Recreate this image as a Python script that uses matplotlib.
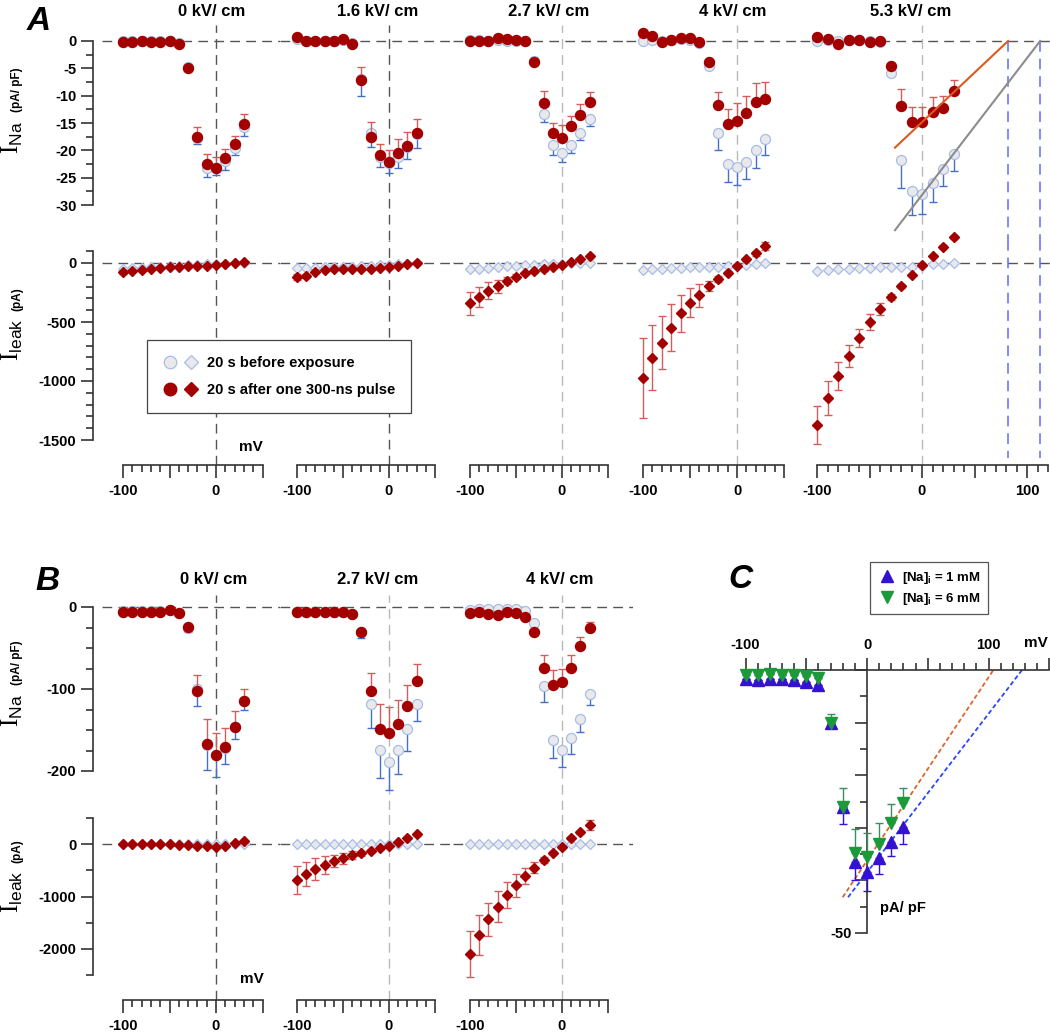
import matplotlib.pyplot as plt
from matplotlib.legend_handler import HandlerTuple
from matplotlib.lines import Line2D

plt.rcParams['font.family'] = ['Liberation Sans', 'DejaVu Sans']
plt.rcParams['mathtext.fontset'] = 'custom'
plt.rcParams['mathtext.rm'] = 'Liberation Serif'
plt.rcParams['mathtext.sf'] = 'Liberation Sans'
plt.rcParams['mathtext.bf'] = 'Liberation Sans:bold'

# %% Data
mv = [-100, -90, -80, -70, -60, -50, -40, -30, -20, -10, 0, 10, 20, 30]

fields_A = ['0 kV/ cm', '1.6 kV/ cm', '2.7 kV/ cm', '4 kV/ cm', '5.3 kV/ cm']
fields_B = ['0 kV/ cm', '2.7 kV/ cm', '4 kV/ cm']

# Panel A, INa (pA/pF): before (mean, lower err) and after (mean, upper err)
ina_A_before = [
    [0, 0, 0, 0, 0, 0, -0.3, -4.8, -17.8, -23.2, -23.3, -22.0, -19.5, -15.8],
    [0.4, 0, 0, 0, 0, 0.2, -0.4, -7.0, -16.9, -21.3, -22.4, -21.3, -19.3, -17.1],
    [0.2, 0.2, 0, 0.2, 0, 0, 0, -3.7, -13.4, -19.1, -20.5, -19.1, -16.9, -14.3],
    [0, 0.2, 0, 0.2, 0.3, 0.2, -0.3, -4.6, -16.9, -22.5, -23.1, -22.1, -20.0, -17.9],
    [0, 0.2, 0, 0.1, 0.1, 0, -0.1, -5.9, -21.8, -27.4, -28.0, -26.0, -23.5, -20.6],
]
ina_A_before_err = [
    [0, 0, 0, 0, 0, 0, 0, 0.5, 1.1, 1.6, 1.2, 1.6, 1.4, 1.5],
    [0, 0, 0, 0, 0, 0, 0, 3.1, 2.4, 1.8, 1.8, 2.0, 2.2, 2.5],
    [0, 0, 0, 0, 0, 0, 0, 0, 1.5, 1.8, 1.7, 1.3, 1.2, 1.2],
    [0, 0, 0, 0, 0, 0, 0, 0, 3.1, 3.3, 3.2, 3.1, 3.2, 3.0],
    [0, 0, 0, 0, 0, 0, 0, 0, 5.1, 4.4, 3.6, 3.4, 3.1, 3.1],
]
ina_A_after = [
    [-0.1, -0.1, 0, -0.1, -0.1, 0, -0.5, -5.0, -17.5, -22.5, -23.3, -21.4, -18.8, -15.2],
    [0.7, 0, 0, 0, 0, 0.3, -0.5, -7.1, -17.6, -20.8, -22.2, -20.5, -19.2, -16.9],
    [0, 0, 0, 0.6, 0.3, 0.2, 0, -3.8, -11.4, -16.9, -17.7, -15.5, -13.5, -11.1],
    [1.5, 1.0, -0.2, 0.2, 0.5, 0.5, -0.1, -3.8, -11.7, -15.1, -14.6, -13.1, -11.2, -10.6],
    [0.8, 0.4, -0.5, 0.2, 0.1, -0.2, 0, -4.6, -11.9, -14.9, -14.9, -13.0, -12.2, -9.2],
]
ina_A_after_err = [
    [0, 0, 0, 0, 0, 0, 0, 0, 1.8, 1.9, 2.0, 1.7, 1.4, 1.8],
    [0, 0, 0, 0, 0, 0, 0, 2.3, 2.7, 2.0, 2.3, 2.5, 2.5, 2.7],
    [0, 0, 0, 0, 0, 0, 0, 0, 2.3, 1.9, 2.3, 1.8, 2.0, 1.7],
    [0, 0, 0, 0, 0, 0, 0, 0, 2.4, 2.7, 3.3, 3.1, 3.6, 3.1],
    [0, 0, 0, 0, 0, 0, 0, 0, 3.2, 2.8, 2.9, 2.7, 2.1, 2.0],
]

# Panel A, leak current (pA)
leak_A_before = [
    [-50, -45, -40, -35, -30, -26, -22, -18, -15, -12, -9, -6, -3, 0],
    [-45, -45, -40, -38, -35, -32, -30, -28, -25, -20, -15, -10, -5, 0],
    [-54, -48, -40, -32, -28, -22, -18, -14, -10, -8, -5, -3, 0, 3],
    [-59, -55, -50, -45, -40, -38, -35, -32, -30, -28, -25, -15, -8, 0],
    [-65, -60, -55, -50, -45, -40, -38, -35, -32, -30, -25, -12, -5, 0],
]
leak_A_after = [
    [-79, -68, -58, -48, -40, -35, -32, -28, -25, -22, -15, -10, -2, 8],
    [-121, -110, -73, -59, -54, -51, -54, -54, -50, -45, -37, -23, -11, 3],
    [-342, -285, -234, -195, -150, -116, -88, -71, -54, -37, -14, 6, 31, 59],
    [-972, -802, -675, -548, -427, -336, -274, -195, -138, -82, -23, 31, 82, 144],
    [-1373, -1147, -958, -788, -638, -503, -393, -291, -195, -102, -17, 62, 138, 218],
]
leak_A_after_err = [
    [10, 8, 6, 5, 5, 4, 4, 3, 3, 3, 3, 3, 3, 3],
    [25, 20, 12, 10, 8, 6, 6, 5, 5, 5, 5, 5, 5, 5],
    [99, 85, 70, 55, 30, 20, 15, 12, 10, 8, 8, 8, 8, 10],
    [340, 275, 225, 200, 160, 125, 100, 45, 25, 15, 12, 15, 20, 30],
    [164, 145, 117, 90, 78, 68, 50, 25, 15, 12, 10, 10, 12, 15],
]

# Linear fits and reversal potentials at 5.3 kV/cm
fit_A_x = [-25.7, 82.0]
fit_A_after_y = [-19.5, 0]
fit_A_before_x = [-25.7, 112.5]
fit_A_before_y = [-34.6, 0]
erev_A = [82.0, 112.5]

# Panel B, INa (pA/pF)
ina_B_before = [
    [-5, -5, -5, -5, -5, -4, -7, -25, -100, -168, -181, -172, -146, -115],
    [-6, -6, -6, -6, -6, -6, -8, -31, -118, -174, -189, -174, -149, -118],
    [-4, -3, -3, -2, -2, -3, -5, -19, -96, -162, -174, -160, -136, -106],
]
ina_B_before_err = [
    [0, 0, 0, 0, 0, 0, 0, 5, 21, 31, 26, 20, 15, 11],
    [0, 0, 0, 0, 0, 0, 0, 7, 29, 34, 34, 30, 27, 21],
    [0, 0, 0, 0, 0, 0, 0, 0, 20, 22, 21, 19, 16, 13],
]
ina_B_after = [
    [-5.7, -5.7, -5.7, -5.7, -5.7, -3.7, -7.7, -24, -103, -167, -180, -171, -146, -115],
    [-6.5, -6.5, -6.5, -6.5, -6.5, -6.5, -8.5, -31, -103, -149, -154, -143, -121, -90],
    [-7.7, -5.7, -8.5, -9.8, -6.5, -7.7, -12.6, -30, -74, -95, -91, -74, -48, -25],
]
ina_B_after_err = [
    [0, 0, 0, 0, 0, 0, 0, 0, 20, 31, 26, 23, 19, 15],
    [0, 0, 0, 0, 0, 0, 0, 0, 22, 31, 32, 29, 26, 21],
    [0, 0, 0, 0, 0, 0, 0, 0, 15, 18, 16, 15, 11, 7],
]

# Panel B, leak current (pA)
leak_B_before = [
    [0, 0, 0, 0, 0, 0, 0, 0, 0, 0, 0, 0, 0, 0],
    [0, 0, 0, 0, 0, 0, 0, 0, 0, 0, 0, 0, 0, 0],
    [0, 0, 0, 0, 0, 0, 0, 0, 0, 0, 0, 0, 0, 0],
]
leak_B_after = [
    [0, 0, 0, -5, -5, -5, -10, -20, -30, -45, -65, -35, 10, 50],
    [-686, -571, -476, -400, -324, -273, -210, -178, -127, -83, -32, 32, 108, 184],
    [-2095, -1733, -1435, -1194, -971, -787, -610, -451, -305, -165, -51, 108, 222, 362],
]
leak_B_after_err = [
    [10, 10, 10, 10, 10, 10, 10, 10, 10, 10, 10, 10, 10, 10],
    [260, 230, 210, 180, 110, 100, 80, 50, 30, 20, 15, 15, 20, 30],
    [440, 380, 320, 300, 250, 215, 160, 110, 50, 30, 20, 20, 30, 100],
]

# Panel C, INa (pA/pF) for two internal Na concentrations
ina_C_1mM = [-1.7, -1.9, -1.8, -1.8, -1.9, -2.2, -2.9, -10, -26, -36.5, -38.4, -35.7, -32.7, -29.8]
ina_C_1mM_err = [0, 0, 0, 0, 0, 0, 0, 0.5, 3.3, 3.5, 3.6, 3.0, 2.6, 3.2]
ina_C_6mM = [-0.9, -1.0, -0.8, -1.0, -1.0, -1.2, -1.6, -10, -26, -34.8, -35.5, -33, -29, -25.3]
ina_C_6mM_err = [0, 0, 0, 0, 0, 0, 0, 1.6, 3.6, 4.6, 4.5, 4.0, 3.5, 2.9]
fit_C_6mM_x = [-20, 104]
fit_C_6mM_y = [-43.2, 0]
fit_C_1mM_x = [-15.6, 127.6]
fit_C_1mM_y = [-43.2, 0]

# %% Styles
RED = '#a30000'
RED_ERR = '#d45c5c'
BLUE_ERR = '#4470cc'
LIGHT_FACE = '#e9e9ec'
LIGHT_EDGE = '#a8bde6'
DASH_DARK = '#555555'
DASH_LIGHT = '#b8b8b8'
AXIS = '#333333'
C_BLUE = '#3512d2'
C_GREEN = '#1c9a3a'
C_GREEN_ERR = '#3f8c64'
DASH = (0, (7, 4.5))

W, H = 1050, 1034
fig = plt.figure(figsize=(W / 100, H / 100), dpi=100)


def px_axes(left, top, right, bottom):
    return fig.add_axes([left / W, 1 - bottom / H, (right - left) / W, (bottom - top) / H])


def ftext(x, y, s, **kw):
    return fig.text(x / W, 1 - y / H, s, **kw)


def make_axes(col, row):
    left, right, x0, sx = col
    top, bottom, y0, sy = row
    ax = px_axes(left, top, right, bottom)
    ax.set_xlim((left - x0) / sx, (right - x0) / sx)
    ax.set_ylim(-(bottom - y0) / sy, (y0 - top) / sy)
    ax.patch.set_visible(False)
    for s in ax.spines.values():
        s.set_visible(False)
        s.set_color(AXIS)
        s.set_linewidth(1.2)
    ax.tick_params(which='both', left=False, bottom=False, labelleft=False,
                   labelbottom=False, color=AXIS, width=1.2, labelsize=10.5, pad=3)
    ax.tick_params(which='major', length=9)
    ax.tick_params(which='minor', length=5)
    return ax


def y_axis(ax, majors, labels, minors, lo, hi):
    ax.spines['left'].set_visible(True)
    ax.spines['left'].set_bounds(lo, hi)
    ax.set_yticks(majors, labels, fontweight='bold')
    ax.set_yticks(minors, minor=True)
    ax.tick_params(axis='y', which='both', left=True, labelleft=True)


def x_axis(ax, majors, labels, minors, lo, hi):
    ax.spines['bottom'].set_visible(True)
    ax.spines['bottom'].set_bounds(lo, hi)
    ax.set_xticks(majors, labels, fontweight='bold')
    ax.set_xticks(minors, minor=True)
    ax.tick_params(axis='x', which='both', bottom=True, labelbottom=True, pad=5)


def ref_lines(ax, vcolor, first):
    ax.axvline(0, color=vcolor, ls=DASH, lw=1, zorder=1)
    ax.axhline(0, xmin=0.05 if first else 0, color=DASH_DARK, ls=DASH, lw=1, zorder=1)


def plot_ina(ax, before, before_err, after, after_err):
    zeros = [0] * len(mv)
    ax.errorbar(mv, before, yerr=[before_err, zeros], fmt='none', ecolor=BLUE_ERR,
                elinewidth=1, capsize=2.8, capthick=1, zorder=2, clip_on=False)
    ax.plot(mv, before, 'o', ms=7.2, mfc=LIGHT_FACE, mec=LIGHT_EDGE, mew=0.9, zorder=3,
            clip_on=False)
    ax.errorbar(mv, after, yerr=[zeros, after_err], fmt='none', ecolor=RED_ERR,
                elinewidth=1, capsize=2.8, capthick=1, zorder=4, clip_on=False)
    ax.plot(mv, after, 'o', ms=7.2, color=RED, zorder=5, clip_on=False)


def plot_leak(ax, before, after, after_err):
    ax.plot(mv, before, 'D', ms=5.6, mfc=LIGHT_FACE, mec=LIGHT_EDGE, mew=0.9, zorder=3,
            clip_on=False)
    ax.errorbar(mv, after, yerr=after_err, fmt='none', ecolor=RED_ERR,
                elinewidth=1, capsize=2.8, capthick=1, zorder=4, clip_on=False)
    ax.plot(mv, after, 'D', ms=5.6, color=RED, zorder=5, clip_on=False)


def ylabel(x, y_main, y_unit, sub, unit):
    ftext(x, y_main, r'$\mathrm{I}_{\mathsf{%s}}$' % sub, rotation=90, fontsize=18,
          ha='center', va='center')
    ftext(x + 5, y_unit, unit, rotation=90, fontsize=8.5, fontweight='bold',
          ha='center', va='center')


# %% Panel A
cols_A = [(93, 280, 216, 0.93), (280, 453, 389, 0.92), (453, 626, 562, 0.92),
          (626, 800, 737, 0.94), (800, 1050, 922, 1.05)]
row_A_na = (25, 240, 41, 5.467)
row_A_leak = (240, 465, 263, 0.118)
title_A_x = [212, 378, 549, 733, 911]
vcol_A = [DASH_DARK, DASH_DARK, DASH_LIGHT, DASH_LIGHT, DASH_LIGHT]

for i, col in enumerate(cols_A):
    ax_na = make_axes(col, row_A_na)
    ax_lk = make_axes(col, row_A_leak)
    ref_lines(ax_na, vcol_A[i], i == 0)
    ref_lines(ax_lk, vcol_A[i], i == 0)
    plot_ina(ax_na, ina_A_before[i], ina_A_before_err[i], ina_A_after[i], ina_A_after_err[i])
    plot_leak(ax_lk, leak_A_before[i], leak_A_after[i], leak_A_after_err[i])
    if i == 0:
        y_axis(ax_na, [0, -5, -10, -15, -20, -25, -30],
               ['0', '-5', '-10', '-15', '-20', '-25', '-30'],
               [-2.5, -7.5, -12.5, -17.5, -22.5, -27.5], -30, 0)
        y_axis(ax_lk, [0, -500, -1000, -1500], ['0', '-500', '-1000', '-1500'],
               [100, -100, -200, -300, -400, -600, -700, -800, -900, -1100,
                -1200, -1300, -1400], -1500, 100)
    if i == 4:
        x_axis(ax_lk, [-100, -50, 0, 50, 100], ['-100', '', '0', '', '100'],
               [-90, -80, -70, -60, -40, -30, -20, -10, 10, 20, 30, 40, 60, 70,
                80, 90, 110, 120], -100, 120)
        ax_na.plot(fit_A_x, fit_A_after_y, color='#dc5a1e', lw=1.5, zorder=6)
        ax_na.plot(fit_A_before_x, fit_A_before_y, color='#8c8c8c', lw=1.5, zorder=6)
        for e in erev_A:
            ax_na.plot([e, e], [0, ax_na.get_ylim()[0]], color='#5a6cff', ls=DASH, lw=1.1)
            ax_lk.plot([e, e], [ax_lk.get_ylim()[1], -1650], color='#5a6cff', ls=DASH, lw=1.1)
    else:
        x_axis(ax_lk, [-100, -50, 0, 50], ['-100', '', '0', ''],
               [-90, -80, -70, -60, -40, -30, -20, -10, 10, 20, 30, 40], -100, 50)
    ftext(title_A_x[i], 12, fields_A[i], fontsize=12, fontweight='bold',
          ha='center', va='center')

ftext(39, 21, 'A', fontsize=24, fontweight='bold', style='italic', ha='center', va='center')
ylabel(12, 138, 90, 'Na', '(pA/ pF)')
ylabel(12, 340, 299, 'leak', '(pA)')
ftext(251, 447, 'mV', fontsize=11, fontweight='bold', ha='center', va='center')

light = dict(ls='none', mfc=LIGHT_FACE, mec=LIGHT_EDGE, mew=0.9)
dark = dict(ls='none', color=RED)
handles = [(Line2D([], [], marker='o', ms=9, **light), Line2D([], [], marker='D', ms=7, **light)),
           (Line2D([], [], marker='o', ms=9, **dark), Line2D([], [], marker='D', ms=7, **dark))]
leg = fig.legend(handles, ['20 s before exposure', '20 s after one 300-ns pulse'],
                 handler_map={tuple: HandlerTuple(ndivide=None, pad=0.5)},
                 loc='upper left', bbox_to_anchor=(147 / W, 1 - 340 / H), borderaxespad=0,
                 prop={'weight': 'bold', 'size': 10.5}, fancybox=False, edgecolor='#444444',
                 framealpha=1, borderpad=1.1, labelspacing=0.9, handlelength=2.4,
                 handletextpad=0.6)
leg.get_frame().set_linewidth(0.9)

# %% Panel B
cols_B = [(93, 280, 216, 0.93), (280, 453, 389, 0.92), (453, 633, 562, 0.92)]
row_B_na = (595, 810, 607, 0.82)
row_B_leak = (810, 1000, 844, 0.0525)
title_B_x = [214, 378, 560]
vcol_B = [DASH_DARK, DASH_LIGHT, DASH_LIGHT]

for i, col in enumerate(cols_B):
    ax_na = make_axes(col, row_B_na)
    ax_lk = make_axes(col, row_B_leak)
    ref_lines(ax_na, vcol_B[i], i == 0)
    ref_lines(ax_lk, vcol_B[i], i == 0)
    plot_ina(ax_na, ina_B_before[i], ina_B_before_err[i], ina_B_after[i], ina_B_after_err[i])
    plot_leak(ax_lk, leak_B_before[i], leak_B_after[i], leak_B_after_err[i])
    if i == 0:
        y_axis(ax_na, [0, -100, -200], ['0', '-100', '-200'],
               [-25, -50, -75, -125, -150, -175], -200, 0)
        y_axis(ax_lk, [0, -1000, -2000], ['0', '-1000', '-2000'],
               [500, -500, -1500, -2500], -2500, 500)
    x_axis(ax_lk, [-100, -50, 0, 50], ['-100', '', '0', ''],
           [-90, -80, -70, -60, -40, -30, -20, -10, 10, 20, 30, 40], -100, 50)
    ftext(title_B_x[i], 580, fields_B[i], fontsize=12, fontweight='bold',
          ha='center', va='center')

ftext(47, 582, 'B', fontsize=24, fontweight='bold', style='italic', ha='center', va='center')
ylabel(12, 711, 663, 'Na', '(pA/ pF)')
ylabel(12, 892, 851, 'leak', '(pA)')
ftext(252, 979, 'mV', fontsize=11, fontweight='bold', ha='center', va='center')

# %% Panel C
axc = make_axes((735, 1050, 867, 1.215), (655, 945, 670, 5.26))
axc.spines['left'].set_visible(True)
axc.spines['left'].set_position(('data', 0))
axc.spines['left'].set_bounds(-50, 0)
axc.spines['top'].set_visible(True)
axc.spines['top'].set_position(('data', 0))
axc.spines['top'].set_bounds(-100, 150)
axc.xaxis.tick_top()
axc.set_xticks([-100, -50, 0, 50, 100, 150], ['-100', '', '0', '', '100', ''], fontweight='bold')
axc.set_xticks([-90, -80, -70, -60, -40, -30, -20, -10, 10, 20, 30, 40, 60, 70, 80, 90,
                110, 120, 130, 140], minor=True)
axc.tick_params(axis='x', which='both', top=True, labeltop=True, bottom=False,
                labelbottom=False, pad=4)
axc.set_yticks([0, -10, -20, -30, -40, -50], ['', '', '', '', '', '-50'], fontweight='bold')
axc.set_yticks([-5, -15, -25, -35, -45], minor=True)
axc.tick_params(axis='y', which='both', left=True, labelleft=True, pad=2)

axc.plot(fit_C_6mM_x, fit_C_6mM_y, color='#e0642a', ls=(0, (2.5, 1.5)), lw=1.3, zorder=2)
axc.plot(fit_C_1mM_x, fit_C_1mM_y, color='#2c44ff', ls=(0, (2.5, 1.5)), lw=1.3, zorder=2)
zeros = [0] * len(mv)
axc.errorbar(mv, ina_C_1mM, yerr=[ina_C_1mM_err, zeros], fmt='none', ecolor=C_BLUE,
             elinewidth=1, capsize=3, capthick=1, zorder=3)
axc.plot(mv, ina_C_1mM, '^', ms=8, color=C_BLUE, zorder=4)
axc.errorbar(mv, ina_C_6mM, yerr=[zeros, ina_C_6mM_err], fmt='none', ecolor=C_GREEN_ERR,
             elinewidth=1, capsize=3, capthick=1, zorder=5)
axc.plot(mv, ina_C_6mM, 'v', ms=8, color=C_GREEN, zorder=6)

ftext(740, 580, 'C', fontsize=24, fontweight='bold', style='italic', ha='center', va='center')
ftext(1036, 643, 'mV', fontsize=11, fontweight='bold', ha='center', va='center')
ftext(880, 908, 'pA/ pF', fontsize=10.5, fontweight='bold', ha='left', va='center')

hc = [Line2D([], [], marker='^', ls='none', ms=8, color=C_BLUE),
      Line2D([], [], marker='v', ls='none', ms=8, color=C_GREEN)]
legc = fig.legend(hc, [r'[Na]$_\mathbf{i}$ = 1 mM', r'[Na]$_\mathbf{i}$ = 6 mM'],
                  loc='upper left', bbox_to_anchor=(870 / W, 1 - 562 / H), borderaxespad=0,
                  prop={'weight': 'bold', 'size': 9.5}, fancybox=False, edgecolor='#555555',
                  framealpha=1, borderpad=0.6, labelspacing=0.35, handlelength=1.4,
                  handletextpad=0.4)
legc.get_frame().set_linewidth(0.9)

fig.savefig('out.png', dpi=100)
